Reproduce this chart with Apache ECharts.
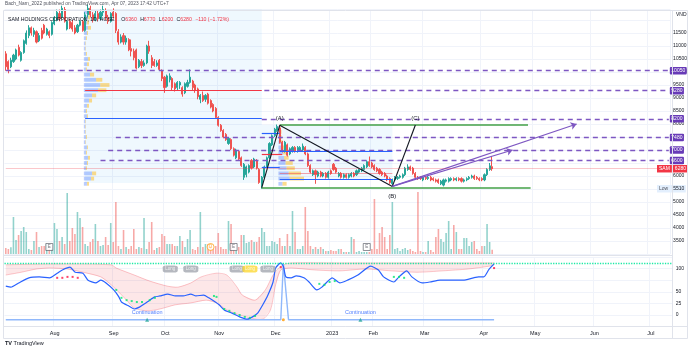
<!DOCTYPE html>
<html><head><meta charset="utf-8">
<script src="https://cdn.jsdelivr.net/npm/echarts@6.0.0/dist/echarts.min.js"></script>
<style>html,body{margin:0;padding:0;background:#fff}#c{width:690px;height:350px}</style>
</head><body><div id="c"></div>
<script>
// ---------- DATA ----------
// Daily candles SAM (HOSE) from 2022-07-05, rows: [open, high, low, close]
const ohlc = [
[10700,10800,10050,10200],[10400,10450,9950,10100],[10200,10550,10150,10450],[10400,10700,10350,10650],[10500,10900,10450,10850],
[10950,11050,10600,10650],[10450,10800,10400,10750],[10750,11250,10700,11200],[11100,11600,11050,11500],[11400,11800,11300,11700],
[11700,11750,11400,11500],[11450,11700,11350,11600],[11550,11600,11100,11150],[11200,11500,11150,11400],[11600,11700,11250,11300],
[11800,11850,11450,11500],[11450,11700,11400,11650],[11550,11600,11300,11400],[11450,11950,11400,11900],[11850,12150,11800,12100],
[12000,12400,11950,12300],[12250,12400,11950,12050],[12100,12550,12050,12450],[12400,12500,11900,11950],[11650,12000,11600,11950],
[11950,12050,11650,11700],[11900,12000,11550,11650],[11700,11800,11450,11500],[11550,11850,11500,11800],[11800,12000,11750,11950],
[11950,12000,11550,11600],[11600,12300,11550,12200],[12200,12600,12100,12450],[12450,12550,12100,12200],[12200,12300,11900,12000],
[12000,12350,11950,12250],[12250,12350,11950,12050],[12050,12400,12000,12300],[12300,12550,12150,12400],[12350,12450,12000,12100],
[12100,12200,11850,11950],[11950,12300,11900,12250],[12300,12450,12050,12150],[12250,12300,11500,11600],[11550,11650,11050,11150],
[11150,11450,11100,11350],[11400,11500,11050,11150],[11150,11400,11050,11300],[11250,11300,10800,10850],[10900,11250,10600,10800],
[10800,10900,10450,10550],[10850,10900,10100,10150],[10200,10500,10150,10450],[10400,10500,10150,10250],[10250,10450,10200,10350],
[10350,11050,10300,11000],[11000,11200,10700,10800],[10550,10650,10150,10250],[10400,10500,10200,10250],[10250,10450,10200,10350],
[10450,10500,10050,10100],[10050,10100,9650,9750],[9800,9850,9200,9400],[9450,9900,9400,9850],[9700,9950,9600,9850],
[9750,9800,9300,9400],[9550,9600,9250,9350],[9400,9650,9300,9600],[9500,9650,9350,9600],[9400,9450,9050,9150],
[9200,9600,9150,9550],[9450,9700,9400,9600],[9600,10100,9550,9800],[9650,9700,9300,9400],[9500,9550,9200,9300],
[9350,9400,8950,9050],[8950,9150,8800,9100],[9100,9250,8850,8900],[8950,9150,8850,9100],[9150,9200,8750,8800],
[8900,8950,8600,8650],[8750,8800,8450,8500],[8600,8650,8200,8250],[8250,8300,7900,7950],[7950,8000,7700,7750],
[7750,7800,7450,7500],[7600,7650,7350,7400],[7250,7500,7200,7450],[7400,7450,7000,7050],[7050,7100,6750,6800],
[6700,7050,6650,7000],[6950,7000,6600,6650],[6700,6750,6350,6400],[5950,6500,5850,6450],[6050,6400,5950,6350],
[6150,6450,6100,6400],[6600,6650,6250,6300],[6350,6700,6300,6650],[6600,6650,6250,6300],[6250,6300,5700,5750],
[5650,6000,5510,5950],[5950,6400,5900,6350],[6350,6750,6300,6700],[6700,7300,6650,7250],[7200,7600,7150,7550],
[7550,7850,7500,7800],[7750,7980,7700,7900],[7850,7950,7250,7300],[7300,7350,6900,6950],[6950,7350,6900,7300],
[7200,7250,6750,6800],[6850,7100,6800,7050],[6950,7150,6900,7100],[7100,7150,6900,6950],[6950,7150,6900,7100],
[7000,7150,6950,7100],[7000,7250,6950,7150],[7100,7150,6800,6850],[6850,6900,6350,6400],[6400,6450,6100,6150],
[6050,6250,6000,6200],[6200,6250,5700,6050],[6000,6200,5950,6150],[6150,6200,5950,6000],[6000,6150,5950,6100],
[6100,6150,5900,5950],[5950,6200,5900,6150],[6200,6250,6050,6100],[6450,6500,6200,6250],[6300,6350,6100,6150],
[6000,6150,5950,6100],[6100,6150,5900,5950],[5950,6100,5900,6050],[6050,6100,5900,5950],[5950,6100,5900,6050],
[6000,6150,5950,6100],[6100,6150,5950,6000],[6050,6250,6000,6200],[6150,6300,6100,6250],[6200,6350,6150,6300],
[6250,6450,6200,6400],[6350,6600,6300,6550],[6550,6750,6350,6400],[6500,6550,6300,6350],[6400,6450,6200,6250],
[6300,6350,6150,6200],[6250,6300,6050,6100],[6150,6200,6000,6050],[6100,6150,5950,6000],[6000,6050,5800,5850],
[5900,5950,5700,5750],[5700,5900,5600,5850],[5850,6000,5800,5950],[5900,6000,5850,5950],[5950,6050,5900,6000],
[5950,6100,5900,6050],[6050,6350,6000,6300],[6250,6450,6200,6350],[6350,6400,6200,6250],[6300,6350,6050,6100],
[6100,6150,5900,5950],[5950,6000,5850,5900],[5950,6000,5850,5900],[5850,6000,5800,5950],[5950,6000,5850,5900],
[5900,6000,5850,5950],[5950,6000,5800,5850],[5900,5950,5800,5850],[5850,5900,5750,5800],[5850,5900,5700,5750],
[5700,5850,5650,5800],[5650,5900,5600,5850],[5800,5900,5750,5850],[5800,5950,5750,5900],[5850,5950,5800,5900],
[5900,5950,5800,5850],[5850,5950,5800,5900],[5900,5950,5800,5850],[5900,5950,5750,5800],[5800,5900,5750,5850],
[5850,5950,5800,5900],[5900,6000,5850,5950],[5950,6050,5900,6000],[6000,6050,5850,5900],[5950,6000,5850,5900],
[5900,5950,5800,5850],[5900,5950,5800,5850],[5850,6100,5800,6050],[6050,6300,6000,6250],[6250,6500,6200,6390],
[6360,6770,6200,6280]
];
// Daily volume, thousand shares
const volumes = [
4800,4000,5400,29600,11200,15200,18400,21600,17600,4000,3200,10400,17600,5600,6400,6400,8000,4000,4000,24800,20000,10400,13600,8000,48800,
10400,20800,16000,33600,
28800,21600,8000,6400,9600,12000,24000,10400,6400,7200,13600,7200,24800,9600,41600,
6400,4000,19200,5600,4000,6400,20000,4000,5600,4800,28800,4000,9600,25600,3200,4800,5600,16000,14400,8000,8000,8000,6400,6400,14400,10400,5600,12000,19200,4000,3200,5600,33600,
5600,8000,8000,6400,4000,6400,16800,5600,4000,4000,26400,24000,3200,2400,5600,15200,15200,8800,9600,11200,9600,9600,13600,20800,17600,6400,6400,10400,9600,8000,12800,6400,6400,16000,6400,34400,
17600,4000,4000,6400,37600,
18400,6400,4000,5600,4000,5600,4000,2400,2400,3200,2400,2400,
4000,4000,1600,1600,1600,13600,12000,1600,2400,1600,1600,1600,1600,4000,44000,
4000,16800,21600,13600,4000,15200,41600,
4000,4800,2400,4000,4800,3200,4000,2400,1600,49600,
2400,1600,1600,10400,3200,1600,13600,20000,12000,9600,16800,26400,
4000,23200,17600,4000,4000,12800,12800,6400,9600,10400,4000,2400,6400,6400,24000,9600,3460
];
// Oscillator (bar index, value)
const oscLine = [[0,62],[2,60],[5,69],[9,80],[13,82],[17,80],[20,90],[22,97],[25,103],[27,92],[30,90],[32,75],[35,69],[37,75],[39,69],[42,54],[44,39],[45,28],[48,19],[50,13],[52,17],[54,24],[56,32],[58,39],[60,41],[63,45],[66,41],[69,41],[72,45],[74,41],[77,43],[79,37],[83,22],[85,11],[88,4],[91,-4],[94,-9],[96,-4],[98,4],[100,22],[102,43],[104,71],[105,101],[107,112],[108,105],[109,82],[111,80],[113,84],[116,80],[118,71],[121,54],[123,60],[125,71],[127,80],[130,69],[133,75],[137,86],[142,105],[145,97],[147,82],[151,71],[153,82],[156,95],[158,82],[162,69],[165,71],[169,75],[173,75],[178,75],[182,80],[184,82],[186,82],[188,98],[190,110]];
const bandUpper = [[0,108],[20,110],[41,108],[43,101],[50,86],[56,73],[63,62],[67,60],[72,69],[76,82],[82,90],[86,86],[90,60],[92,43],[97,32],[101,54],[104,86],[107,105],[111,112],[130,112],[150,112],[170,112],[190,112]];
const bandLower = [[0,86],[6,92],[12,99],[17,101],[24,99],[30,92],[37,82],[41,65],[44,49],[47,32],[50,15],[55,9],[60,13],[66,22],[72,26],[78,32],[82,26],[86,11],[90,2],[95,-6],[100,-9],[103,11],[105,65],[107,97],[111,101],[120,97],[130,95],[140,99],[150,95],[160,92],[170,95],[180,99],[188,105],[190,108]];
const greenDots = [[43,54],[45,37],[47,32],[49,30],[51,28],[53,28],[56,32],[58,37],[81,41],[82,39],[85,13],[87,9],[89,4],[91,0],[93,-4],[95,-6],[97,-2],[122,67],[124,65],[126,71],[128,73],[151,82],[153,82],[155,80]];
const redDots = [[20,80],[22,80],[24,82],[26,82],[28,80],[107,103],[190,101]];
const flatLine = [[0,-10],[107,-10],[108,112],[110,-10],[190,-10]];
const longSignals = [64,72,90,95,102];
const longHighlighted = 95;
const longLevel = 99;
const continuationIdx = [55,138];
const earningsIdx = [17,89,141];
const dividendIdx = [80];
// Horizontal levels (drawn dashed purple to the right edge)
const levelPrices = [10050,9280,8200,7480,7000,6600];
const levelStartIdx = [0,101,100,43,40,37];
// Volume profiles: rows [priceLow, priceHigh, upVol(K), downVol(K)]
const vp1Anchor = 31;
const vp1Rows = [[12200,12400,2400,800],[12000,12200,3200,1600],[11800,12000,2400,1600],[11600,11800,3200,2400],[11400,11600,2400,800],[11200,11400,1600,800],[11000,11200,1200,400],[10800,11000,1200,400],[10600,10800,1600,800],[10400,10600,3200,1600],[10200,10400,2400,1600],[10000,10200,1600,800],[9800,10000,4800,3200],[9600,9800,9600,4800],[9400,9600,12800,7200],[9200,9400,11200,6400],[9000,9200,6400,3200],[8800,9000,4000,2400],[8600,8800,2400,1600],[8400,8600,1600,800],[8200,8400,2400,800],[8000,8200,1200,400],[7800,8000,1200,400],[7600,7800,1200,400],[7400,7600,1600,800],[7200,7400,1200,400],[7000,7200,2400,800],[6800,7000,1600,800],[6600,6800,3200,1600],[6400,6600,2400,800],[6200,6400,1600,800],[6000,6200,6400,3200],[5800,6000,5600,2400],[5600,5800,2400,1600]];
const vp2Anchor = 107;
const vp2Rows = [[7800,7950,1200,400],[7600,7800,1600,800],[7400,7600,1600,800],[7200,7400,2000,1200],[7000,7200,2800,2000],[6800,7000,3600,2800],[6600,6800,4400,3600],[6400,6600,5600,5600],[6200,6400,6400,6400],[6000,6200,8000,9600],[5800,6000,8800,11200],[5600,5800,3200,3200]];
// Pattern A-B-C
const patternIdx = [100,107,151,160];
const patternPrice = [5550,7950,5600,7960];
const lastClose = 6280, lowPrice = 5510, lastVolume = 3460;

// ---------- CHART ----------
const FONT = '"Liberation Sans", Arial, sans-serif';
const TXT = '#131722', GRIDC = '#f0f3fa';
const UP = '#26a69a', DOWN = '#ef5350';
const PURPLE = '#7e57c2', PURPLE_BOX = '#673ab7';

const holidays = ['2022-09-01','2022-09-02','2023-01-02','2023-01-20','2023-01-23','2023-01-24','2023-01-25','2023-01-26'];
const dates = [];
for (let t = Date.UTC(2022,6,5); dates.length < 260; t += 86400000) {
  const dt = new Date(t), wd = dt.getUTCDay(), s = dt.toISOString().slice(0,10);
  if (wd !== 0 && wd !== 6 && holidays.indexOf(s) < 0) dates.push(s);
}
const LAST = dates.length - 1;
const MONTHS = ['Jan','Feb','Mar','Apr','May','Jun','Jul','Aug','Sep','Oct','Nov','Dec'];
const isMonthStart = (i) => i > 0 && dates[i].slice(5,7) !== dates[i-1].slice(5,7);
const monthLabel = (s) => { const m = +s.slice(5,7); return m === 1 ? s.slice(0,4) : MONTHS[m-1]; };

const candleData = ohlc.map(r => [r[0], r[3], r[2], r[1]]);
const volData = volumes.map((v,i) => ({value: v, itemStyle: {color: ohlc[i][3] >= ohlc[i][0] ? 'rgba(38,166,154,0.5)' : 'rgba(239,83,80,0.5)'}}));

function box(text, bg, fg, extra) {
  return Object.assign({show:true, position:'end', distance:1, formatter:text, backgroundColor:bg, color:fg||'#fff',
    fontSize:5, fontFamily:FONT, padding:[1.5,1.5,1,1.5], borderRadius:1}, extra||{});
}
function seg(i0, p0, i1, p1, color, width, type, label, endSymbol) {
  return [
    {coord:[i0,p0], symbol:'none', lineStyle:{color:color, width:width, type:type||'solid'}, label: label || {show:false}},
    {coord:[i1,p1], symbol: endSymbol || 'none', symbolSize: 6, lineStyle:{color:color, width:width, type:type||'solid'}, label: label || {show:false}}
  ];
}

const priceLines = [];
levelPrices.forEach((p,k) => priceLines.push(seg(levelStartIdx[k], p, LAST, p, PURPLE, 1.3, [5,4], box(String(p), PURPLE_BOX))));
// volume profile key lines
priceLines.push(seg(vp1Anchor,9300,100,9300,'#f23645',1.2));
priceLines.push(seg(vp1Anchor,8230,100,8230,'#2962ff',1.2));
priceLines.push(seg(100,7650,vp2Anchor,7650,'#2962ff',1.2));
priceLines.push(seg(100,6850,vp2Anchor+1,6850,'#f23645',1.2));
priceLines.push(seg(100,6350,vp2Anchor,6350,'#2962ff',1.2));
priceLines.push(seg(vp2Anchor,6950,151,6950,'#2962ff',1.2));
priceLines.push(seg(vp2Anchor,6100,151,6100,'rgba(242,54,69,0.45)',1));
priceLines.push(seg(vp2Anchor,5880,151,5880,'#2962ff',1.2));
// channel
priceLines.push(seg(107,7960,204,7960,'#43a047',1.5));
priceLines.push(seg(100,5550,205,5550,'#43a047',1.5));
// A-B-C
for (let k = 0; k < patternIdx.length-1; k++) priceLines.push(seg(patternIdx[k],patternPrice[k],patternIdx[k+1],patternPrice[k+1],'#131722',1.1));
// projection arrows
priceLines.push(seg(151,5600,223,8000,PURPLE,1.2,'solid',null,'arrow'));
priceLines.push(seg(151,5600,198,7000,PURPLE,1.2,'solid',null,'arrow'));
// SMA line + labels
priceLines.push(seg(0,lastClose,LAST,lastClose,'rgba(242,54,69,0.28)',1));
priceLines.push(seg(0,lastClose,254,lastClose,'rgba(0,0,0,0)',0.1,'solid',
  {show:true, position:'end', distance:1, formatter:'{n|SAM}{v|' + lastClose + '}', rich:{
    n:{backgroundColor:'#f23645', color:'#fff', fontSize:5, padding:[1.5,2,1,2], fontFamily:FONT},
    v:{backgroundColor:'#f23645', color:'#fff', fontSize:5, padding:[1.5,1.5,1,3], fontFamily:FONT}}}));
priceLines.push(seg(0,lowPrice,254,lowPrice,'rgba(0,0,0,0)',0.1,'solid',
  {show:true, position:'end', distance:1, formatter:'{n|Low}{v|' + lowPrice + '}', rich:{
    n:{backgroundColor:'#e3effd', color:'#50535e', fontSize:5, padding:[1.5,2,1,2], fontFamily:FONT},
    v:{backgroundColor:'#e3effd', color:'#131722', fontSize:5, padding:[1.5,1.5,1,3], fontFamily:FONT}}}));

const pointLabels = ['(A)','(B)','(C)'];
const pointLabelPrice = [8230, 5230, 8230];
const pointLabelIdx = [107, 151, 160];

function vpRender(anchor) {
  return function(params, api) {
    const lo = api.value(0), hi = api.value(1), up = api.value(2), dn = api.value(3);
    const a = api.coord([anchor, hi]), b = api.coord([anchor, lo]);
    const bw = api.size([1, 0])[0];
    const x0 = a[0] - bw/2, h = Math.max(b[1]-a[1]-1.4, 0.8);
    const per = 2000; // thousand shares per bar width
    const wu = up/per*bw, wd = dn/per*bw;
    return {type:'group', children:[
      {type:'rect', shape:{x:x0, y:a[1]+0.7, width:wu, height:h}, style:{fill:'rgba(41,98,255,0.32)'}},
      {type:'rect', shape:{x:x0+wu, y:a[1]+0.7, width:wd, height:h}, style:{fill:'rgba(251,192,45,0.55)'}}
    ]};
  };
}

const option = {
  animation: false,
  backgroundColor: '#ffffff',
  textStyle: {fontFamily: FONT},
  grid: [
    {left: 4.5, right: 17.3, top: 9.6, height: 244.4},
    {left: 4.5, right: 17.3, top: 256.9, height: 69.75}
  ],
  xAxis: [
    {type:'category', gridIndex:0, data:dates, boundaryGap:true, axisLine:{show:false}, axisTick:{show:false},
      axisLabel:{show:false, interval:(i)=>isMonthStart(i)}, splitLine:{show:true, interval:(i)=>isMonthStart(i), lineStyle:{color:GRIDC, width:1}}},
    {type:'category', gridIndex:1, data:dates, boundaryGap:true, axisLine:{show:false}, axisTick:{show:false},
      axisLabel:{show:true, interval:(i)=>isMonthStart(i), formatter:(v)=>monthLabel(v), fontSize:5.5, color:TXT, margin:3.5, fontFamily:FONT},
      splitLine:{show:true, interval:(i)=>isMonthStart(i), lineStyle:{color:GRIDC, width:1}}}
  ],
  yAxis: [
    {type:'value', gridIndex:0, position:'right', min:3000, max:12400, interval:500, axisLine:{show:false}, axisTick:{show:false},
      axisLabel:{fontSize:5, color:TXT, margin:3, fontFamily:FONT, showMaxLabel:false, formatter:(v)=> (v<=3000||v>=12000)?'':String(v)},
      splitLine:{lineStyle:{color:GRIDC, width:1}}},
    {type:'value', gridIndex:0, min:0, max:195500, show:false},
    {type:'value', gridIndex:1, position:'right', min:-25, max:125, interval:25, axisLine:{show:false}, axisTick:{show:false},
      axisLabel:{fontSize:5, color:TXT, margin:3, fontFamily:FONT, formatter:(v)=> [0,25,50,100].indexOf(v)>=0 ? String(v) : ''},
      splitLine:{lineStyle:{color:GRIDC, width:1}}}
  ],
  series: [
    {name:'zones', type:'line', xAxisIndex:0, yAxisIndex:0, data:[], z:0, silent:true, symbol:'none',
      markArea:{silent:true, itemStyle:{color:'rgba(33,150,243,0.07)'}, data:[
        [{coord:[vp1Anchor,5730]},{coord:[100,12400]}],
        [{coord:[100,5850]},{coord:[151,7960]}]
      ]}},
    {name:'vol', type:'bar', xAxisIndex:0, yAxisIndex:1, data:volData, barWidth:'62%', z:1, silent:true,
      markLine:{silent:true, symbol:'none', data:[
        {yAxis:lastVolume, lineStyle:{opacity:0}, label: box(lastVolume + 'K', '#f23645')}
      ]}},
    {name:'vp1', type:'custom', xAxisIndex:0, yAxisIndex:0, data:vp1Rows, renderItem:vpRender(vp1Anchor), z:2, silent:true, encode:{y:[0,1]}},
    {name:'vp2', type:'custom', xAxisIndex:0, yAxisIndex:0, data:vp2Rows, renderItem:vpRender(vp2Anchor), z:2, silent:true, encode:{y:[0,1]}},
    {name:'price', type:'candlestick', xAxisIndex:0, yAxisIndex:0, data:candleData, barWidth:'62%', z:3, silent:true,
      itemStyle:{color:UP, color0:DOWN, borderColor:UP, borderColor0:DOWN, borderWidth:1},
      markLine:{silent:true, symbol:'none', label:{show:false}, data:priceLines},
      markPoint:{silent:true, symbol:'circle', symbolSize:1, itemStyle:{color:'rgba(0,0,0,0)'},
        data: pointLabels.map((t,k)=>({coord:[pointLabelIdx[k], pointLabelPrice[k]], label:{show:true, position:'inside', formatter:t, color:TXT, fontSize:6, fontFamily:FONT}}))}},
    {name:'events', type:'scatter', xAxisIndex:0, yAxisIndex:1, z:5, silent:true,
      data: earningsIdx.map(i=>({value:[i,5600], symbol:'rect', symbolSize:[7,7], itemStyle:{color:'#fff', borderColor:'#50535e', borderWidth:0.8}, label:{show:true, position:'inside', formatter:'E', fontSize:4.5, color:'#50535e'}}))
        .concat(dividendIdx.map(i=>({value:[i,5600], symbol:'circle', symbolSize:7, itemStyle:{color:'#fff', borderColor:'#ff9800', borderWidth:0.9}, label:{show:true, position:'inside', formatter:'D', fontSize:4.5, color:'#ff9800'}})))},
    // oscillator pane
    {name:'band', type:'custom', xAxisIndex:1, yAxisIndex:2, data:[[0,0]], z:1, silent:true,
      renderItem:(params, api) => {
        const up = bandUpper.map(p => api.coord(p)), lo = bandLower.map(p => api.coord(p));
        return {type:'group', children:[
          {type:'polygon', shape:{points: up.concat(lo.slice().reverse())}, style:{fill:'rgba(242,54,69,0.12)'}},
          {type:'polyline', shape:{points: up, smooth:0.25}, style:{stroke:'rgba(242,54,69,0.35)', fill:null, lineWidth:0.8}},
          {type:'polyline', shape:{points: lo, smooth:0.25}, style:{stroke:'rgba(242,54,69,0.35)', fill:null, lineWidth:0.8}}
        ]};
      }},
    {name:'flat', type:'line', xAxisIndex:1, yAxisIndex:2, data:flatLine, symbol:'none', z:2, silent:true,
      lineStyle:{color:'#90b8fb', width:1.4},
      markLine:{silent:true, symbol:'none', data:[
        {yAxis:112, lineStyle:{type:'dotted', color:'#1de9a6', width:1.3}, label:{show:false}},
        {yAxis:124, lineStyle:{opacity:0}, label: box('110', '#ffeb3b', '#131722')},
        {yAxis:114, lineStyle:{opacity:0}, label: box('108', '#f23645')},
        {yAxis:84, lineStyle:{opacity:0}, label: box('101', '#f23645')},
        {yAxis:73, lineStyle:{opacity:0}, label: box('99', '#f23645')},
        {yAxis:-10, lineStyle:{opacity:0}, label: box('−10', '#2962ff')}
      ]}},
    {name:'osc', type:'line', xAxisIndex:1, yAxisIndex:2, data:oscLine, symbol:'none', smooth:0.2, z:3, silent:true,
      lineStyle:{color:'#2962ff', width:1.2}},
    {name:'gdots', type:'scatter', xAxisIndex:1, yAxisIndex:2, data:greenDots, symbol:'rect', symbolSize:2, z:4, silent:true, itemStyle:{color:'#00e676'}},
    {name:'rdots', type:'scatter', xAxisIndex:1, yAxisIndex:2, data:redDots, symbol:'rect', symbolSize:2, z:4, silent:true, itemStyle:{color:'#ff1744'}},
    {name:'long', type:'scatter', xAxisIndex:1, yAxisIndex:2, z:5, silent:true, symbol:'roundRect', symbolSize:[15,7],
      data: longSignals.map(i=>({value:[i,longLevel], itemStyle:{color: i===longHighlighted ? '#fdd835' : '#a3a6af'}})),
      label:{show:true, position:'inside', formatter:'Long', color:'#fff', fontSize:4.5, fontFamily:FONT}},
    {name:'cont', type:'scatter', xAxisIndex:1, yAxisIndex:2, z:5, silent:true, symbol:'triangle', symbolSize:4,
      data: continuationIdx.map(i=>[i,-10]), itemStyle:{color:'#26a69a'},
      label:{show:true, position:'top', distance:2, formatter:'Continuation', color:'#2962ff', fontSize:5.5, fontFamily:FONT}},
    {name:'odot', type:'scatter', xAxisIndex:1, yAxisIndex:2, z:5, silent:true, symbol:'circle', symbolSize:3,
      data:[[108,-10]], itemStyle:{color:'#ff9800'}}
  ],
  graphic: [
    {type:'rect', silent:true, shape:{x:3.5, y:10.5, width:684, height:328}, style:{fill:null, stroke:'#e0e3eb', lineWidth:1}, z:100},
    {type:'line', silent:true, shape:{x1:672.5, y1:10.5, x2:672.5, y2:338.5}, style:{stroke:'#e0e3eb', lineWidth:1}, z:100},
    {type:'line', silent:true, shape:{x1:3.5, y1:326.5, x2:687.5, y2:326.5}, style:{stroke:'#e0e3eb', lineWidth:1}, z:100},
    {type:'line', silent:true, shape:{x1:3.5, y1:255.5, x2:672.5, y2:255.5}, style:{stroke:'#e0e3eb', lineWidth:1}, z:100},
    {type:'text', silent:true, left:5, top:1.5, z:101, style:{text:'Bach_Nam_2022 published on TradingView.com, Apr 07, 2023 17:42 UTC+7', fill:'#50535e', fontSize:4.8, fontFamily:FONT}},
    {type:'text', silent:true, left:8, top:14, z:101, style:{text:'{n|SAM HOLDINGS CORPORATION, 1D, HOSE}  {k|O}{v|6360} {k|H}{v|6770} {k|L}{v|6200} {k|C}{v|6280} {v|−110 (−1.72%)}',
      rich:{n:{fill:TXT, fontSize:5.2, fontFamily:FONT}, k:{fill:TXT, fontSize:5.2, fontFamily:FONT}, v:{fill:'#f23645', fontSize:5.2, fontFamily:FONT}}}},
    {type:'text', silent:true, left:676, top:12, z:101, style:{text:'VND', fill:TXT, fontSize:5, fontFamily:FONT}},
    {type:'text', silent:true, left:5, top:340, z:101, style:{text:'{b|TV} TradingView', rich:{b:{fontWeight:'bold', fill:TXT, fontSize:5.5, fontFamily:FONT}}, fill:TXT, fontSize:5.5, fontFamily:FONT}}
  ]
};
const chart = echarts.init(document.getElementById('c'));
chart.setOption(option);
</script>
</body></html>
